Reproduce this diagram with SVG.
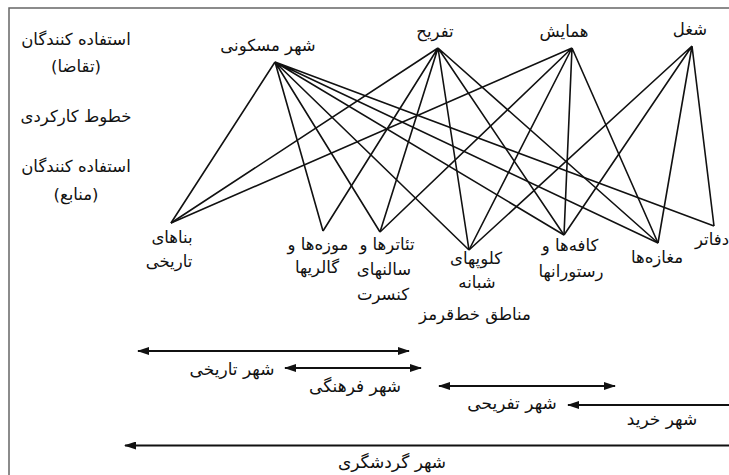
<svg xmlns="http://www.w3.org/2000/svg" width="729" height="475" viewBox="0 0 729 475">
<defs>
<style>
text{font-family:"DejaVu Sans",sans-serif;font-size:16.5px;fill:#111;text-anchor:middle;direction:rtl}
.top{font-size:16.5px}
.rl{font-size:17px}
.edge{stroke:#111;stroke-width:1.6;fill:none}
.range{stroke:#111;stroke-width:2.2;fill:none}
.frame{stroke:#666;stroke-width:1.5;fill:none}
</style>
<marker id="ah" viewBox="0 0 12 8" refX="11" refY="4" markerWidth="12" markerHeight="8" markerUnits="userSpaceOnUse" orient="auto-start-reverse">
<path d="M0,0 L12,4 L0,8 z" fill="#111"/>
</marker>
</defs>
<rect width="729" height="475" fill="#fff"/>
<path class="frame" d="M9,475 V8 H729"/>

<g id="legend">
<text x="76" y="45">استفاده کنندگان</text>
<text x="76" y="72">(تقاضا)</text>
<text x="76" y="122">خطوط کارکردی</text>
<text x="76" y="172">استفاده کنندگان</text>
<text x="76" y="200">(منابع)</text>
</g>

<g id="connectors">
<path class="edge" d="M275,62 L171,223 M275,62 L323,231 M275,62 L380,232 M275,62 L469,250 M275,62 L564,235 M275,62 L658,243 M275,62 L714,226"/>
<path class="edge" d="M438,48 L171,223 M438,48 L323,231 M438,48 L380,232 M438,48 L469,250 M438,48 L564,235 M438,48 L658,243"/>
<path class="edge" d="M572,48 L171,223 M572,48 L380,232 M572,48 L469,250 M572,48 L564,235 M572,48 L658,243"/>
<path class="edge" d="M692,46 L469,250 M692,46 L564,235 M692,46 L658,243 M692,46 L714,226"/>
</g>

<g id="shahr-maskuni"><text class="top" x="268" y="51">شهر مسکونی</text></g>
<g id="tafrih"><text class="top" x="435" y="37">تفریح</text></g>
<g id="hamayesh"><text class="top" x="564" y="37">همایش</text></g>
<g id="shoghl"><text class="top" x="690" y="35">شغل</text></g>

<g id="banaha"><text x="172" y="243">بناهای</text><text x="169" y="267">تاریخی</text></g>
<g id="muzeha"><text x="318" y="250">موزه‌ها و</text><text x="317" y="273">گالریها</text></g>
<g id="teatrha"><text x="387" y="250">تئاترها و</text><text x="384" y="275">سالنهای</text><text x="383" y="300">کنسرت</text></g>
<g id="kolupha"><text x="476" y="264">کلوپهای</text><text x="477" y="288">شبانه</text><text x="475" y="320">مناطق خط‌قرمز</text></g>
<g id="kafeha"><text x="570" y="251">کافه‌ها و</text><text x="571" y="277">رستورانها</text></g>
<g id="maghazeha"><text x="657" y="263">مغازه‌ها</text></g>
<g id="dafater"><text x="712" y="245">دفاتر</text></g>

<g id="ranges">
<path class="range" d="M138,351 H409" marker-start="url(#ah)" marker-end="url(#ah)"/>
<path class="range" d="M285,368 H421" marker-start="url(#ah)" marker-end="url(#ah)"/>
<path class="range" d="M439,386 H615" marker-start="url(#ah)" marker-end="url(#ah)"/>
<path class="range" d="M568,405 H729" marker-start="url(#ah)"/>
<path class="range" d="M125,445.5 H729" marker-start="url(#ah)"/>
<text class="rl" x="232" y="375">شهر تاریخی</text>
<text class="rl" x="355" y="392">شهر فرهنگی</text>
<text class="rl" x="512" y="409">شهر تفریحی</text>
<text class="rl" x="662" y="425">شهر خرید</text>
<text class="rl" x="392" y="468">شهر گردشگری</text>
</g>
</svg>
